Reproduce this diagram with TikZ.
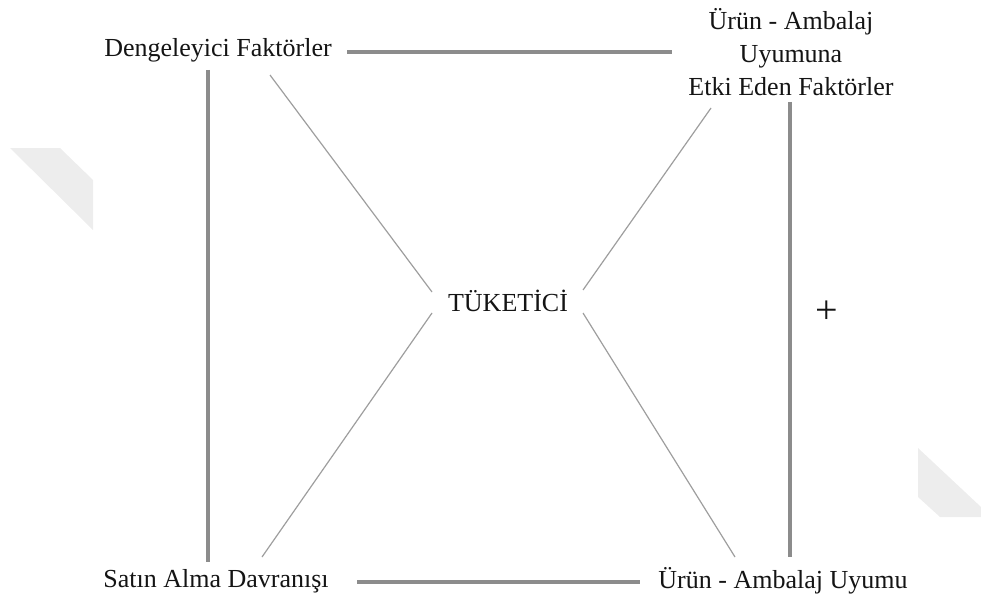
\documentclass[tikz,border=0pt]{standalone}
\usepackage{fontspec}
\setmainfont{Liberation Serif}
\begin{document}
\begin{tikzpicture}[x=1pt,y=-1pt,
  lbl/.style={inner sep=0pt, font=\fontsize{26}{33}\selectfont, text=black!92, align=center},
  thick line/.style={draw=black!45, line width=3.6pt},
  thin line/.style={draw=black!38, line width=1.2pt},
  wm/.style={fill=black!7, draw=none}]
\useasboundingbox (0,0) rectangle (981,599);
% watermark shapes
\fill[wm] (10,148) -- (60,148) -- (93,180) -- (93,230) -- cycle;
\fill[wm] (918,448) -- (918,497) -- (940,517) -- (981,517) -- (981,507) -- cycle;
% labels
\node[lbl] (df) at (218,50) {Dengeleyici Faktörler};
\node[lbl] (ua) at (791,52) {Ürün - Ambalaj\\Uyumuna\\Etki Eden Faktörler};
\node[lbl] (tk) at (508,301) {TÜKETİCİ};
\node[lbl, font=\fontsize{40}{40}\selectfont] (plus) at (827,312) {+};
\node[lbl] (sa) at (216,581) {Satın Alma Davranışı};
\node[lbl] (uu) at (783,581) {Ürün - Ambalaj Uyumu};
% connector end points
\coordinate (h1a) at (347,52); \coordinate (h1b) at (672,52);
\coordinate (h2a) at (357,582); \coordinate (h2b) at (640,582);
\coordinate (v1a) at (208,70); \coordinate (v1b) at (208,562);
\coordinate (v2a) at (790,102); \coordinate (v2b) at (790,557);
\coordinate (d1a) at (270,75); \coordinate (d1b) at (432,292);
\coordinate (d2a) at (711,108); \coordinate (d2b) at (583,290);
\coordinate (d3a) at (432,313); \coordinate (d3b) at (262,557);
\coordinate (d4a) at (583,313); \coordinate (d4b) at (735,557);
% connectors
\draw[thick line] (h1a) -- (h1b);
\draw[thick line] (h2a) -- (h2b);
\draw[thick line] (v1a) -- (v1b);
\draw[thick line] (v2a) -- (v2b);
\draw[thin line] (d1a) -- (d1b);
\draw[thin line] (d2a) -- (d2b);
\draw[thin line] (d3a) -- (d3b);
\draw[thin line] (d4a) -- (d4b);
\end{tikzpicture}
\end{document}
